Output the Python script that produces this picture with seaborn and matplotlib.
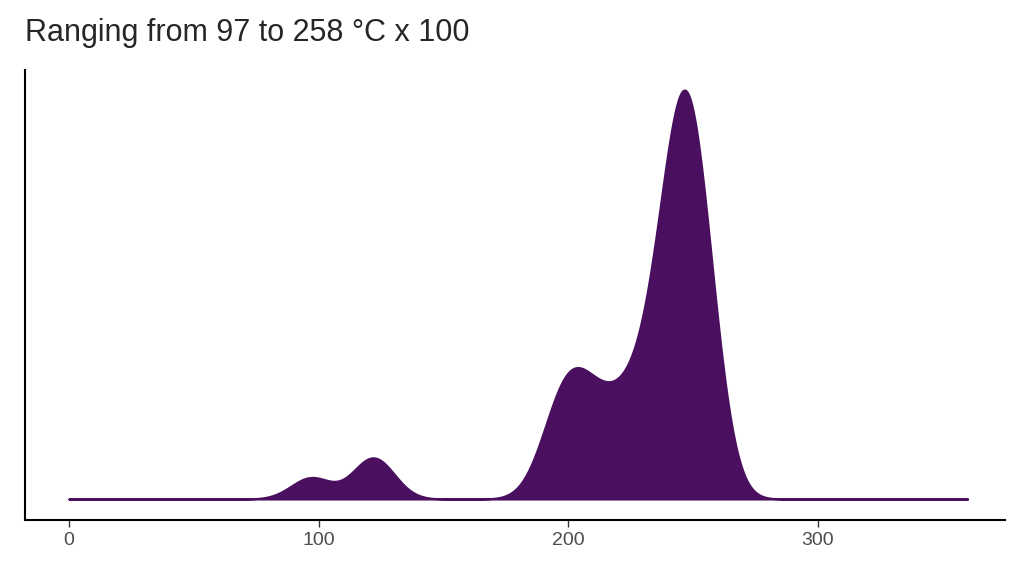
import numpy as np
import matplotlib
matplotlib.use("Agg")
from matplotlib import pyplot as plt
import seaborn as sns

# temperature samples (°C x 100)
temps = [97,
         120, 124,
         192, 196, 199, 201, 203, 206,
         210, 214, 218,
         222, 226, 229, 232,
         235, 237, 239, 240, 241, 242, 243, 244, 245, 246, 246, 247, 247,
         248, 248, 249, 250, 251, 252, 253, 254, 255, 256, 258]
title = "Ranging from 97 to 258 °C x 100"
xticks = [0, 100, 200, 300]
colour = "#4a0f5e"

sns.set_style("white")
plt.rcParams['font.family'] = ['Liberation Sans', 'DejaVu Sans']

fig = plt.figure(figsize=(10.24, 5.76), dpi=100)
ax = fig.add_axes([25/1024, 1 - 520/576, 980/1024, 450/576])

sns.kdeplot(x=temps, ax=ax, fill=True, color=colour, alpha=1, linewidth=1.5,
            bw_adjust=0.45, cut=100, clip=(0, 360), gridsize=800)

ymax = max(p.vertices[:, 1].max()
           for c in ax.collections for p in c.get_paths())
ax.set_ylim(-ymax * 21 / 409, ymax * 429 / 409)
ax.set_xlim(-17.6, 375)

ax.set_xticks(xticks)
ax.set_xticklabels([str(t) for t in xticks], fontsize=14, color="#4d4d4d")
ax.set_yticks([])
ax.set_xlabel("")
ax.set_ylabel("")
ax.tick_params(axis="x", length=5, width=1, color="#333333", bottom=True)
for side in ["top", "right"]:
    ax.spines[side].set_visible(False)
for side in ["left", "bottom"]:
    ax.spines[side].set_color("black")
    ax.spines[side].set_linewidth(1.5)

fig.text(25/1024, 1 - 33/576, title, fontsize=22, va="center", ha="left")

fig.savefig("out.png", dpi=100)
